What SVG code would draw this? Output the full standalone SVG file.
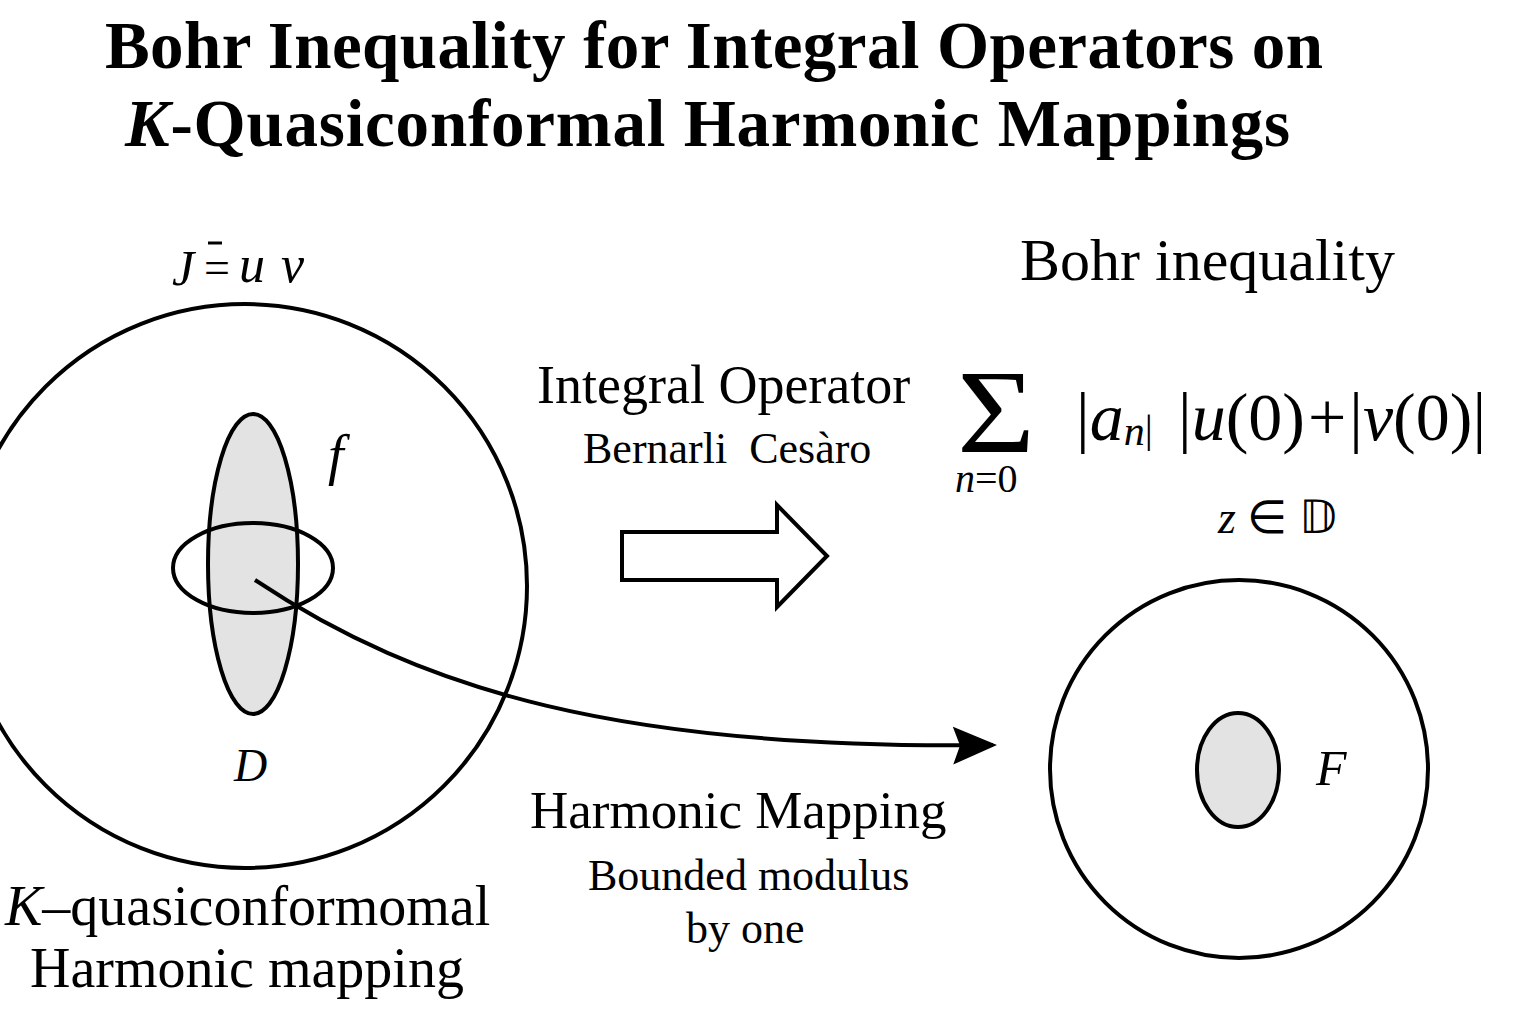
<svg xmlns="http://www.w3.org/2000/svg" width="1536" height="1024" viewBox="0 0 1536 1024">
<style>
.t{font-family:"Liberation Serif","Times New Roman",serif;fill:#000}
.i{font-style:italic}
.ln{fill:none;stroke:#000;stroke-width:4}
.sh{fill:#e3e3e3;stroke:#000;stroke-width:4}
</style>
<defs>
<marker id="ah" markerWidth="44" markerHeight="40" refX="40" refY="20" orient="auto" markerUnits="userSpaceOnUse" viewBox="0 0 44 40">
<path d="M0,1 L44,20 L0,39 L7,20 Z" fill="#000"/>
</marker>
</defs>
<rect width="1536" height="1024" fill="#fff"/>
<g id="title">
<text class="t" x="105" y="68" font-size="67" font-weight="bold" textLength="1218">Bohr Inequality for Integral Operators on</text>
<text class="t" x="125" y="146" font-size="67" font-weight="bold" textLength="1165"><tspan font-style="italic">K</tspan>-Quasiconformal Harmonic Mappings</text>
</g>
<g id="left-domain">
<circle class="ln" cx="245" cy="586" r="282"/>
<ellipse class="sh" cx="253" cy="564" rx="45" ry="150"/>
<ellipse class="ln" cx="253" cy="568" rx="80" ry="45"/>
<text class="t i" x="172" y="285" font-size="50">J</text>
<line x1="208" y1="243" x2="222" y2="243" stroke="#000" stroke-width="3"/>
<text class="t" x="204" y="283" font-size="46">=</text>
<text class="t i" x="239" y="282" font-size="52">u</text>
<text class="t i" x="281" y="282" font-size="52">v</text>
<text class="t i" x="328" y="474" font-size="56">f</text>
<text class="t i" x="234" y="781" font-size="46">D</text>
<text class="t" x="5" y="925" font-size="56"><tspan font-style="italic">K</tspan>–quasiconformomal</text>
<text class="t" x="30" y="987" font-size="56">Harmonic mapping</text>
</g>
<g id="operator">
<text class="t" x="537" y="403" font-size="54">Integral Operator</text>
<text class="t" x="583" y="463" font-size="44">Bernarli&#160; Cesàro</text>
<path d="M622,532 L777,532 L777,505 L827,556 L777,607 L777,580 L622,580 Z" fill="#fff" stroke="#000" stroke-width="4" stroke-linejoin="miter"/>
</g>
<g id="bohr">
<text class="t" x="1020" y="280" font-size="60">Bohr inequality</text>
<text class="t" x="957" y="452" font-size="118" textLength="78" lengthAdjust="spacingAndGlyphs">Σ</text>
<text class="t" x="955" y="492" font-size="40"><tspan font-style="italic">n</tspan>=0</text>
<text class="t" x="1076" y="440" font-size="68">|<tspan font-style="italic">a</tspan><tspan font-style="italic" font-size="42" dy="5">n</tspan><tspan font-size="40" dy="-3">|</tspan></text>
<text class="t" x="1178" y="440" font-size="68">|<tspan font-style="italic">u</tspan>(0)<tspan dx="3">+</tspan><tspan dx="3">|</tspan><tspan font-style="italic">v</tspan>(0)|</text>
<text class="t" x="1218" y="533" font-size="46"><tspan font-style="italic">z</tspan> ∈ 𝔻</text>
</g>
<g id="right-domain">
<circle class="ln" cx="1239" cy="769" r="189"/>
<ellipse class="sh" cx="1238" cy="770" rx="41" ry="57"/>
<text class="t i" x="1316" y="785" font-size="50">F</text>
</g>
<g id="connectors">
<path class="ln" d="M255,580 C420,690 620,750 993,745" marker-end="url(#ah)"/>
<text class="t" x="530" y="828" font-size="53">Harmonic Mapping</text>
<text class="t" x="588" y="890" font-size="44">Bounded modulus</text>
<text class="t" x="686" y="943" font-size="44">by one</text>
</g>
</svg>
